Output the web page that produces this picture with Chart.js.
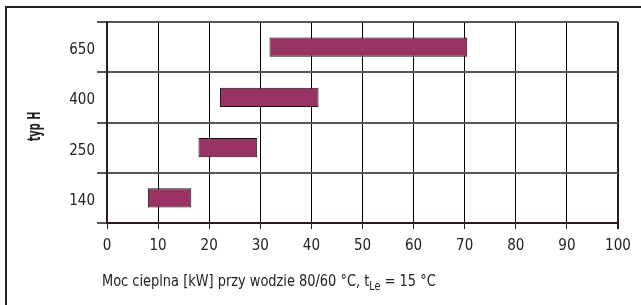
<!DOCTYPE html>
<html lang="pl">
<head>
<meta charset="UTF-8">
<title>typ H</title>
<script src="https://cdn.jsdelivr.net/npm/chart.js"></script>
<style>
  html, body { margin: 0; padding: 0; background: #fff; overflow: hidden; }
  #wrap { position: relative; width: 641px; height: 305px; }
  #frame { position: absolute; left: 5px; top: 6px; width: 700px; height: 400px; border: 2px solid #222; }
  canvas { position: absolute; left: 0; top: 0; }
</style>
</head>
<body>
<div id="wrap">
  <div id="frame"></div>
  <canvas id="chart" width="641" height="305"></canvas>
</div>
<script>
// types (top to bottom) and power range [from, to] in kW
const types = ['650', '400', '250', '140'];
const powerFrom = [31.8, 22.1, 17.9, 8.0];
const powerTo = [70.5, 41.4, 29.4, 16.5];
const xTicks = [0, 10, 20, 30, 40, 50, 60, 70, 80, 90, 100];

const yTitle = 'typ H';
const xTitleMain = 'Moc cieplna [kW] przy wodzie 80/60 °C, t';
const xTitleSub = 'Le';
const xTitleEnd = ' = 15 °C';

const FONT = '"DejaVu Sans Condensed", "Liberation Sans", sans-serif';
const axisColor = '#2b1a25';

// axis titles: narrow lettering like the original, drawn with a horizontal squeeze
const titlesPlugin = {
    id: 'titles',
    afterDraw(chart) {
        const ctx = chart.ctx;
        const area = chart.chartArea;
        ctx.save();
        ctx.fillStyle = '#222';
        ctx.textBaseline = 'alphabetic';
        ctx.textAlign = 'left';

        // x title with subscript
        ctx.save();
        ctx.translate(area.left - 5, 286);
        ctx.scale(0.9, 1);
        ctx.font = '16px ' + FONT;
        ctx.fillText(xTitleMain, 0, 0);
        let x = ctx.measureText(xTitleMain).width;
        ctx.font = '12px ' + FONT;
        ctx.fillText(xTitleSub, x, 4);
        x += ctx.measureText(xTitleSub).width;
        ctx.font = '16px ' + FONT;
        ctx.fillText(xTitleEnd, x, 0);
        ctx.restore();

        // y title, rotated
        ctx.save();
        ctx.translate(40, (area.top + area.bottom) / 2 + 4);
        ctx.rotate(-Math.PI / 2);
        ctx.scale(0.64, 1);
        ctx.font = 'bold 17px ' + FONT;
        ctx.textAlign = 'center';
        ctx.fillText(yTitle, 0, 0);
        ctx.restore();

        ctx.restore();
    }
};

new Chart(document.getElementById('chart'), {
    type: 'bar',
    data: {
        labels: types,
        datasets: [{
            data: types.map((t, i) => [powerFrom[i], powerTo[i]]),
            backgroundColor: '#993366',
            borderColor: '#111',
            borderWidth: 1,
            borderSkipped: false,
            categoryPercentage: 1,
            barPercentage: 0.38
        }]
    },
    options: {
        indexAxis: 'y',
        responsive: false,
        animation: false,
        layout: { padding: { left: 0, top: 22, right: 23, bottom: 0 } },
        plugins: { legend: { display: false }, tooltip: { enabled: false } },
        scales: {
            x: {
                type: 'linear',
                min: 0,
                max: 100,
                afterBuildTicks: (scale) => { scale.ticks = xTicks.map(v => ({ value: v })); },
                afterFit: (scale) => { scale.height = 82; },
                grid: {
                    color: (c) => c.tick && c.tick.value === 100 ? axisColor : '#000',
                    lineWidth: (c) => c.tick && c.tick.value === 100 ? 2 : 1,
                    tickLength: 6,
                    tickColor: axisColor
                },
                border: { color: axisColor, width: 2 },
                ticks: { color: '#222', padding: 8, font: { family: FONT, size: 15 } }
            },
            y: {
                afterFit: (scale) => { scale.width = 107; },
                grid: {
                    offset: true,
                    color: '#555',
                    lineWidth: 2,
                    tickLength: 10
                },
                border: { color: axisColor, width: 2 },
                ticks: { color: '#222', padding: 2, labelOffset: 3, font: { family: FONT, size: 15 } }
            }
        }
    },
    plugins: [titlesPlugin]
});
</script>
</body>
</html>
